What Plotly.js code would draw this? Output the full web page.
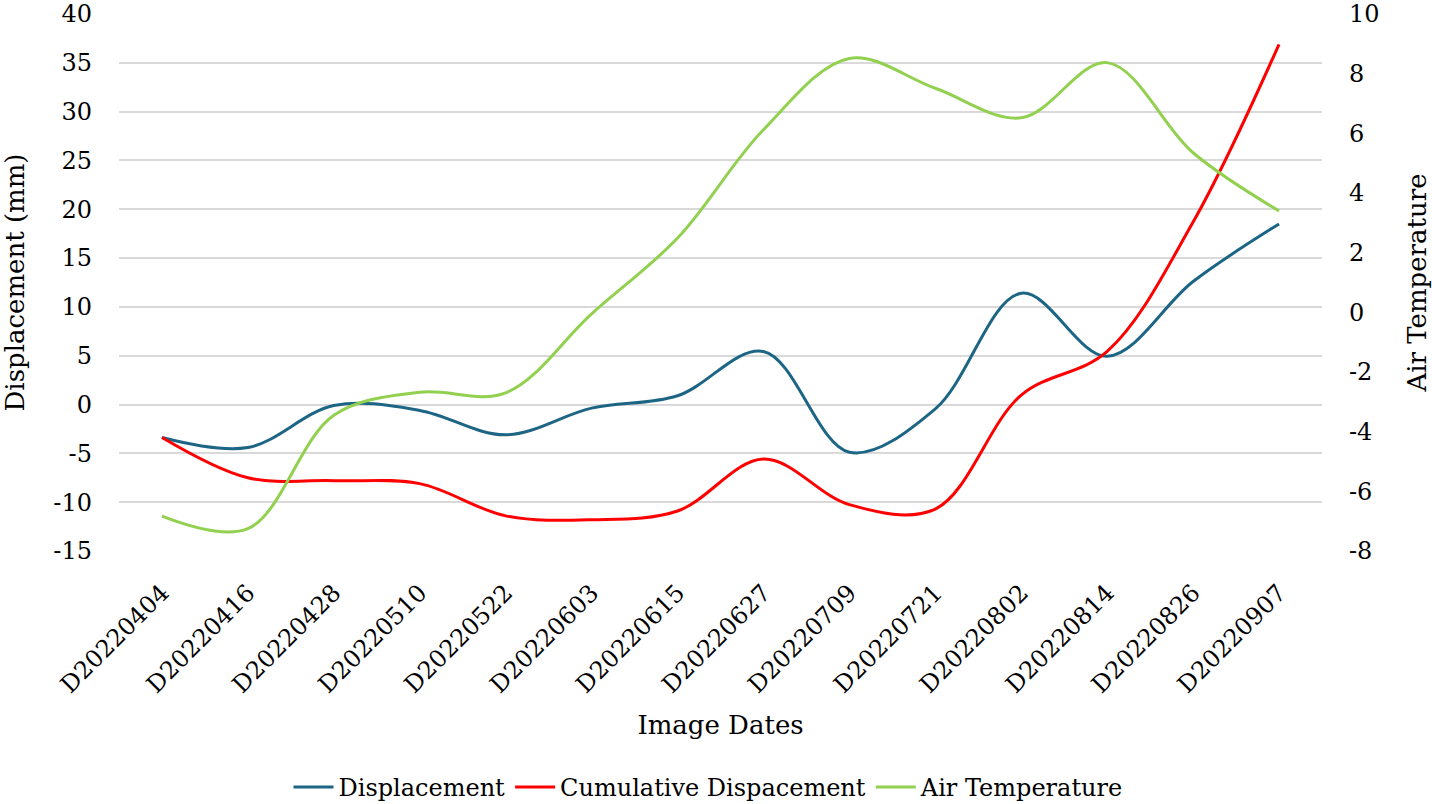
<!DOCTYPE html>
<html>
<head>
<meta charset="utf-8">
<script src="https://cdn.plot.ly/plotly-3.0.1.min.js"></script>
<style>html,body{margin:0;padding:0;background:#fff;} #chart{width:1432px;height:804px;}</style>
</head>
<body>
<div id="chart"></div>
<script>
const categories = ["D20220404","D20220416","D20220428","D20220510","D20220522","D20220603","D20220615","D20220627","D20220709","D20220721","D20220802","D20220814","D20220826","D20220907"];
const displacement = [-3.37, -4.4, -0.1, -0.6, -3.1, -0.37, 0.9, 5.44, -4.88, -0.44, 11.4, 4.94, 12.6, 18.5];
const cumulativeDisplacement = [-3.37, -7.5, -7.8, -8.1, -11.4, -11.8, -10.9, -5.58, -10.25, -10.7, 0.97, 5.44, 18.7, 36.9];
const airTemperature = [-6.83, -7.25, -3.45, -2.68, -2.7, -0.05, 2.49, 6.12, 8.51, 7.51, 6.52, 8.37, 5.35, 3.4];

const leftTickVals = [-15, -10, -5, 0, 5, 10, 15, 20, 25, 30, 35, 40];
const leftTickText = ["-15", "-10", "-5", "0", "5", "10", "15", "20", "25", "30", "35", "40"];
const rightTickVals = [-8, -6, -4, -2, 0, 2, 4, 6, 8, 10];
const rightTickText = ["-8", "-6", "-4", "-2", "0", "2", "4", "6", "8", "10"];

const FONT = "DejaVu Serif";
const line = (c) => ({color: c, width: 3, shape: "spline", smoothing: 1});

const traces = [
  {x: categories, y: displacement, name: "Displacement", type: "scatter", mode: "lines", line: line("#1d6585")},
  {x: categories, y: cumulativeDisplacement, name: "Cumulative Dispacement", type: "scatter", mode: "lines", line: line("#ff0000")},
  {x: categories, y: airTemperature, name: "Air Temperature", type: "scatter", mode: "lines", line: line("#92d050"), yaxis: "y2"}
];

const layout = {
  width: 1432, height: 804,
  margin: {l: 119, r: 110, t: 14, b: 253, autoexpand: false},
  paper_bgcolor: "#fff", plot_bgcolor: "#fff",
  font: {family: FONT, size: 24, color: "#000"},
  showlegend: true,
  legend: {orientation: "h", x: 0.49, xanchor: "center", y: -0.44, yanchor: "middle", font: {family: FONT, size: 24, color: "#000"}, itemwidth: 40, tracegroupgap: 0},
  xaxis: {
    type: "category", range: [-0.5, 13.5], tickangle: -45,
    showgrid: false, zeroline: false, showline: false,
    ticks: "", ticklabelstandoff: 22,
    tickfont: {family: FONT, size: 24, color: "#000"},
    title: {text: "Image Dates", font: {family: FONT, size: 26, color: "#000"}, standoff: 18}
  },
  yaxis: {
    range: [-15, 40], tickmode: "array", tickvals: leftTickVals, ticktext: leftTickText,
    showgrid: true, gridcolor: "#d9d9d9", gridwidth: 2,
    zeroline: false, showline: false, ticks: "", ticklabelstandoff: 26,
    tickfont: {family: FONT, size: 24, color: "#000"},
    title: {text: "Displacement (mm)", font: {family: FONT, size: 26, color: "#000"}, standoff: 22}
  },
  yaxis2: {
    range: [-8, 10], tickmode: "array", tickvals: rightTickVals, ticktext: rightTickText,
    overlaying: "y", side: "right",
    showgrid: false, zeroline: false, showline: false, ticks: "", ticklabelstandoff: 26,
    tickfont: {family: FONT, size: 24, color: "#000"},
    title: {text: "Air Temperature", font: {family: FONT, size: 26, color: "#000"}, standoff: 30}
  }
};

Plotly.newPlot("chart", traces, layout, {displayModeBar: false, staticPlot: true});
</script>
</body>
</html>
